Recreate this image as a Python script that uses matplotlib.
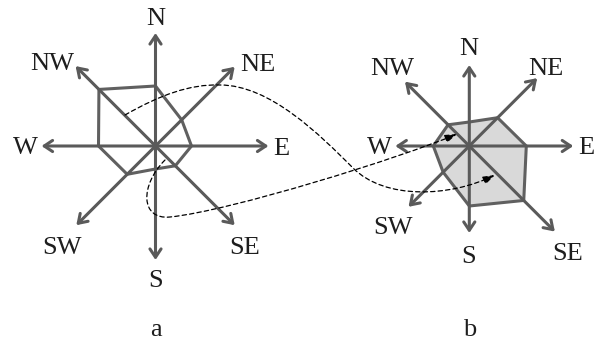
import numpy as np
import matplotlib
matplotlib.use('Agg')
from matplotlib import pyplot as plt
from matplotlib.patches import FancyArrowPatch
from matplotlib.path import Path

plt.rcParams['font.family'] = ['Liberation Serif', 'DejaVu Serif']

# compass directions and their angles (degrees, counter-clockwise from E)
directions = ['N', 'NE', 'E', 'SE', 'S', 'SW', 'W', 'NW']
angles = [90, 45, 0, -45, -90, -135, 180, 135]

# diagram a: arm lengths and polygon radii (pixels)
a_arms = [113, 112, 113, 112, 114, 112, 114, 113]
a_vals = [60, 37, 36, 28, 23, 40, 57, 80]
# diagram b
b_arms = [81, 96, 104, 121, 87, 86, 74, 91]
b_vals = [24, 40, 57, 77, 60, 37, 36, 30]

panel_labels = ['a', 'b']

# dashed connector curves (cubic bezier control points, pixel coords)
curve1 = [(125, 115), (160, 95), (190, 84), (220, 85),
          (270, 85), (320, 135), (353, 168),
          (385, 200), (450, 197), (495, 175)]
curve2 = [(165, 160), (140, 185), (140, 220), (170, 217),
          (230, 211), (400, 158), (457, 134)]

# layout
centers = [(155.5, 146), (469.3, 146)]
a_lab_off = [(0, -17), (23, -5), (13, 0), (10, 20), (0, 18), (-14, 20), (-16, -1), (-23, -5)]
b_lab_off = [(-1, -19), (9, -12), (13, -1), (13, 19), (-1, 21), (-15, 18), (-16, -1), (-13, -16)]
arm_col = '#5a5a5a'
txt_col = '#1e1e1e'


def pos(c, r, ang):
    t = np.deg2rad(ang)
    return c[0] + r * np.cos(t), c[1] - r * np.sin(t)


def compass(ax, c, arms, vals, lab_off, fill):
    pts = [pos(c, r, a) for r, a in zip(vals, angles)]
    xs = [p[0] for p in pts]
    ys = [p[1] for p in pts]
    ax.fill(xs, ys, facecolor='#d9d9d9' if fill else 'none',
            edgecolor='#606060', linewidth=2.2, joinstyle='round', zorder=1)
    for name, r, a, off in zip(directions, arms, angles, lab_off):
        tip = pos(c, r, a)
        ar = FancyArrowPatch(c, tip, arrowstyle='->,head_length=0.6,head_width=0.4',
                             mutation_scale=10, color=arm_col, linewidth=2.2,
                             shrinkA=0, shrinkB=0, zorder=2)
        ax.add_patch(ar)
        ax.text(tip[0] + off[0], tip[1] + off[1] + 9, name, fontsize=19,
                ha='center', va='baseline', color=txt_col, zorder=4)


def connector(ax, pts):
    codes = [Path.MOVETO] + [Path.CURVE4] * (len(pts) - 1)
    p = Path(pts, codes)
    ar = FancyArrowPatch(path=p, arrowstyle='-|>,head_length=0.9,head_width=0.3',
                         mutation_scale=8, color='black', linewidth=0.9,
                         linestyle=(0, (3.5, 2.5)), zorder=3)
    ax.add_patch(ar)


fig = plt.figure(figsize=(5.98, 3.4), dpi=100)
ax = fig.add_axes([0, 0, 1, 1])
ax.set_xlim(0, 598)
ax.set_ylim(340, 0)
ax.axis('off')

compass(ax, centers[0], a_arms, a_vals, a_lab_off, False)
compass(ax, centers[1], b_arms, b_vals, b_lab_off, True)
connector(ax, curve1)
connector(ax, curve2)

for c, lab in zip(centers, panel_labels):
    ax.text(c[0], 336, lab, fontsize=19, ha='center', va='baseline', color=txt_col)

fig.savefig('out.png', dpi=100)
